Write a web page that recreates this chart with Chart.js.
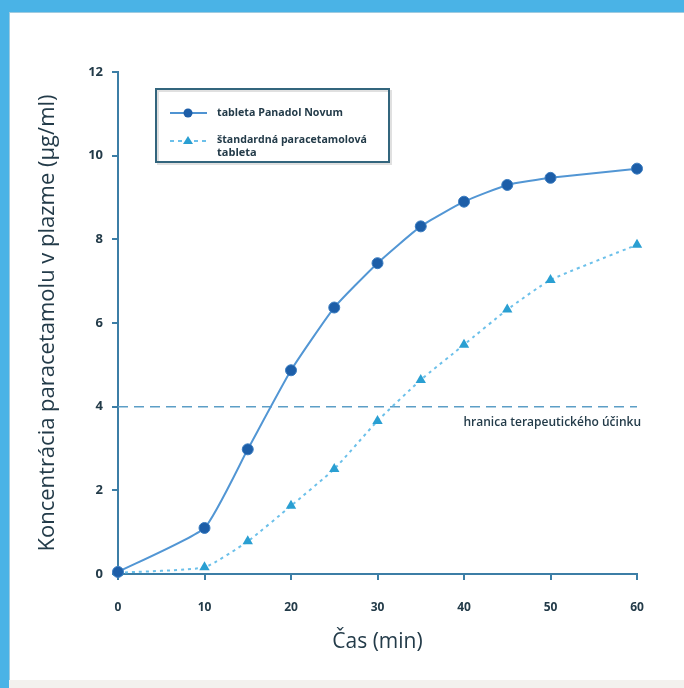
<!DOCTYPE html>
<html>
<head>
<meta charset="utf-8">
<script src="https://cdn.jsdelivr.net/npm/chart.js@4.4.1/dist/chart.umd.min.js"></script>
<style>
  html, body { margin: 0; padding: 0; }
  body { width: 684px; height: 688px; position: relative; overflow: hidden; background: #4ab3e6; }
  #paper { position: absolute; left: 9px; top: 12px; right: 0; bottom: 0; background: #fff;
           border-top: 1px solid #9fcbe0; border-left: 1px solid #9fcbe0; }
  #foot { position: absolute; left: 9px; right: 0; top: 680px; bottom: 0; background: #f3f1ee; }
  #wrap { position: absolute; left: 0; top: 0; width: 684px; height: 688px; }
</style>
</head>
<body>
<div id="paper"></div>
<div id="foot"></div>
<div id="wrap"><canvas id="chart" width="684" height="688"></canvas></div>
<script>
// === Dáta ===
const casMin = [0, 10, 15, 20, 25, 30, 35, 40, 45, 50, 60];
const panadolNovum = [0.05, 1.1, 2.98, 4.87, 6.37, 7.43, 8.31, 8.9, 9.3, 9.47, 9.69];
const standardna = [0.03, 0.16, 0.78, 1.63, 2.51, 3.66, 4.64, 5.48, 6.32, 7.03, 7.87];
const hranica = 4;
const xTicks = [0, 10, 20, 30, 40, 50, 60];
const yTicks = [0, 2, 4, 6, 8, 10, 12];

const legendTexts = ["tableta Panadol Novum", "štandardná paracetamolová", "tableta"];
const hranicaText = "hranica terapeutického účinku";

const axisColor = "#3c7ea6";
const textColor = "#233b49";
const fontFam = "'Open Sans', 'Noto Sans', sans-serif";

// legenda a popis hranice
const extras = {
  id: "extras",
  afterDraw(chart) {
    const ctx = chart.ctx;
    const xs = chart.scales.x, ys = chart.scales.y;
    ctx.save();
    // popis hranice
    ctx.fillStyle = textColor;
    ctx.font = "600 12px " + fontFam;
    ctx.textAlign = "right";
    ctx.textBaseline = "middle";
    ctx.fillText(hranicaText, xs.getPixelForValue(60) + 4, ys.getPixelForValue(hranica) + 16, 190);

    // rámik legendy
    const bx = 156, by = 89, bw = 233, bh = 73;
    ctx.strokeStyle = "rgba(0,0,0,0.12)";
    ctx.lineWidth = 2;
    ctx.strokeRect(bx + 2, by + 2, bw, bh);
    ctx.strokeStyle = "#33657d";
    ctx.lineWidth = 2;
    ctx.strokeRect(bx, by, bw, bh);

    // vzorka 1
    ctx.strokeStyle = "#4f93d2";
    ctx.lineWidth = 2;
    ctx.beginPath(); ctx.moveTo(170, 113); ctx.lineTo(207, 113); ctx.stroke();
    ctx.fillStyle = "#1d5ea8";
    ctx.beginPath(); ctx.arc(188, 113, 4.5, 0, Math.PI * 2); ctx.fill();
    // vzorka 2
    ctx.strokeStyle = "#6cc0ea";
    ctx.setLineDash([4, 4]);
    ctx.beginPath(); ctx.moveTo(170, 141); ctx.lineTo(207, 141); ctx.stroke();
    ctx.setLineDash([]);
    ctx.fillStyle = "#2a9fd2";
    ctx.beginPath(); ctx.moveTo(188, 136); ctx.lineTo(193, 144); ctx.lineTo(183, 144); ctx.closePath(); ctx.fill();

    ctx.fillStyle = textColor;
    ctx.font = "bold 11px " + fontFam;
    ctx.textAlign = "left";
    ctx.fillText(legendTexts[0], 217, 113, 126);
    ctx.fillText(legendTexts[1], 217, 140, 150);
    ctx.fillText(legendTexts[2], 217, 153);
    ctx.restore();
  }
};

new Chart(document.getElementById("chart"), {
  type: "line",
  data: {
    datasets: [
      {
        label: legendTexts[0],
        data: casMin.map((t, i) => ({ x: t, y: panadolNovum[i] })),
        borderColor: "#5296d4",
        borderWidth: 2,
        tension: 0.15,
        pointStyle: "circle",
        pointRadius: 5.5,
        pointBackgroundColor: "#1d5ea8",
        pointBorderColor: "#3a7cc0",
        pointBorderWidth: 1,
        clip: false
      },
      {
        label: legendTexts[1] + " " + legendTexts[2],
        data: casMin.map((t, i) => ({ x: t, y: standardna[i] })),
        borderColor: "#6cc0ea",
        borderWidth: 2,
        borderDash: [3, 4],
        tension: 0.15,
        pointStyle: "triangle",
        pointRadius: 6,
        pointBackgroundColor: "#2a9fd2",
        pointBorderColor: "#2a9fd2",
        pointBorderWidth: 0,
        clip: false
      },
      {
        label: hranicaText,
        data: [{ x: 0, y: hranica }, { x: 60, y: hranica }],
        borderColor: "#5c9ec6",
        borderWidth: 1.5,
        borderDash: [10, 6],
        pointRadius: 0,
        clip: false
      }
    ]
  },
  plugins: [extras],
  options: {
    responsive: false,
    animation: false,
    layout: { padding: { left: 0, top: 72, right: 47, bottom: 0 } },
    plugins: { legend: { display: false }, tooltip: { enabled: false } },
    scales: {
      x: {
        type: "linear",
        min: 0, max: 60,
        afterFit: s => { s.height = 114; },
        afterBuildTicks: s => { s.ticks = xTicks.map(v => ({ value: v })); },
        grid: { drawOnChartArea: false, drawTicks: true, tickLength: 6, color: axisColor, lineWidth: 2 },
        border: { color: axisColor, width: 2 },
        ticks: { color: textColor, font: { family: fontFam, size: 12, weight: "bold" }, padding: 20 },
        title: {
          display: true, text: "Čas (min)", color: textColor,
          font: { family: fontFam, size: 21 }, padding: { top: 0, bottom: 33 }
        }
      },
      y: {
        min: 0, max: 12,
        afterFit: s => { s.width = 118; },
        afterBuildTicks: s => { s.ticks = yTicks.map(v => ({ value: v })); },
        grid: { drawOnChartArea: false, drawTicks: true, tickLength: 6, color: axisColor, lineWidth: 2 },
        border: { color: axisColor, width: 2 },
        ticks: { color: textColor, font: { family: fontFam, size: 13, weight: "bold" }, padding: 9 },
        title: {
          display: true, text: "Koncentrácia paracetamolu v plazme (µg/ml)", color: textColor,
          font: { family: fontFam, size: 22 }, padding: { top: 35, bottom: 0 }
        }
      }
    }
  }
});
</script>
</body>
</html>
